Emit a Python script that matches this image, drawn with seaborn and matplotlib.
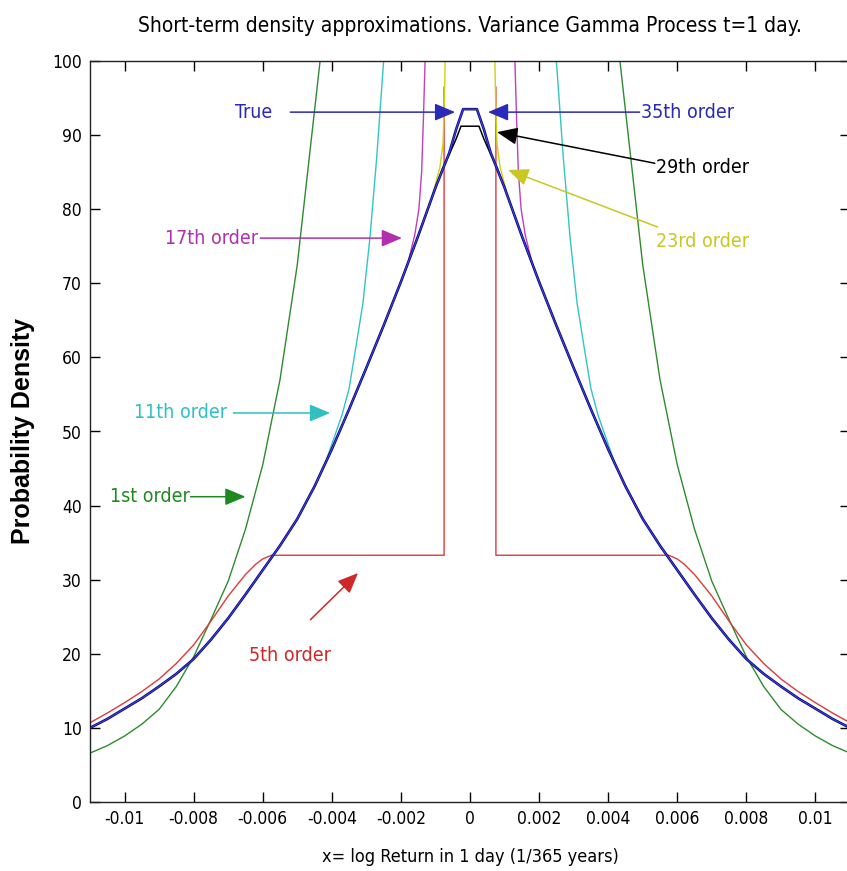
import numpy as np
import pandas as pd
import matplotlib
matplotlib.use('Agg')
import matplotlib.pyplot as plt
from matplotlib import font_manager
import seaborn as sns

# values, left half only (x <= 0); the curves are symmetric about 0
true_x = [-0.011, -0.0105, -0.010, -0.0095, -0.009, -0.0085, -0.008, -0.0075, -0.007,
          -0.0065, -0.006, -0.0055, -0.005, -0.0045, -0.004, -0.0035, -0.003, -0.0025,
          -0.002, -0.0015, -0.001, -0.0006, -0.0004, -0.0002, 0.0]
true_y = [10.0, 11.2, 12.6, 14.0, 15.6, 17.3, 19.3, 21.9, 24.8,
          28.0, 31.3, 34.6, 38.2, 42.6, 47.6, 53.0, 58.6, 64.3,
          70.2, 76.4, 82.9, 87.6, 90.8, 93.5, 93.5]

o1_x = [-0.011, -0.0105, -0.010, -0.0095, -0.009, -0.0085, -0.008, -0.0075, -0.007,
        -0.0065, -0.006, -0.0055, -0.005, -0.0047, -0.00434]
o1_y = [6.6, 7.6, 8.9, 10.5, 12.5, 15.6, 19.6, 24.6, 29.8,
        36.8, 45.5, 57.0, 72.5, 85.0, 100.0]

o5_x = [-0.011, -0.0105, -0.010, -0.0095, -0.009, -0.0085, -0.008, -0.0075, -0.007,
        -0.0065, -0.0062, -0.006, -0.0058, -0.00575, -0.00075, -0.00075]
o5_y = [10.7, 12.0, 13.4, 14.9, 16.6, 18.7, 21.2, 24.4, 27.8,
        30.7, 32.1, 32.8, 33.2, 33.3, 33.3, 96.5]

o11_x = [-0.0042, -0.0037, -0.0035, -0.0033, -0.0031, -0.0029, -0.0027, -0.0025]
o11_y = [45.6, 52.3, 55.8, 61.5, 67.3, 76.0, 87.0, 100.0]

o17_x = [-0.0018, -0.0016, -0.00148, -0.0014, -0.00135, -0.0013]
o17_y = [72.7, 76.5, 80.0, 85.0, 92.0, 100.0]

o23_x = [-0.0011, -0.00087, -0.00078, -0.00074, -0.00072]
o23_y = [81.6, 85.7, 88.9, 95.0, 100.0]

o29_x = [-0.0008, -0.0006, -0.0004, -0.00026, 0.0]
o29_y = [85.4, 87.4, 89.5, 91.2, 91.2]

xticks = [-0.01, -0.008, -0.006, -0.004, -0.002, 0, 0.002, 0.004, 0.006, 0.008, 0.01]
xtick_labels = ['-0.01', '-0.008', '-0.006', '-0.004', '-0.002', '0',
                '0.002', '0.004', '0.006', '0.008', '0.01']
yticks = [0, 10, 20, 30, 40, 50, 60, 70, 80, 90, 100]

# label, colour, text pos, arrow tail, arrow tip (data coords)
notes = [
    ('True', '#2a2ab8', (-0.00627, 93.1), (-0.0052, 93.1), (-0.00043, 93.1)),
    ('35th order', '#2a2ab8', (0.0063, 93.0), (0.00491, 93.1), (0.00052, 93.1)),
    ('29th order', 'black', (0.00673, 85.6), (0.00535, 86.2), (0.00078, 90.4)),
    ('23rd order', '#c8c820', (0.00673, 75.6), (0.00543, 77.6), (0.0011, 85.3)),
    ('17th order', '#b030b0', (-0.00748, 76.1), (-0.00607, 76.1), (-0.00197, 76.1)),
    ('11th order', '#30c0c0', (-0.00838, 52.5), (-0.00685, 52.5), (-0.00405, 52.5)),
    ('1st order', '#208820', (-0.00928, 41.2), (-0.00809, 41.2), (-0.0065, 41.2)),
    ('5th order', '#d02828', (-0.0052, 19.8), (-0.00462, 24.6), (-0.00324, 30.9)),
]


def mirror(xs, ys):
    xs = np.asarray(xs)
    ys = np.asarray(ys)
    if xs[-1] == 0:
        return np.r_[xs, -xs[::-1][1:]], np.r_[ys, ys[::-1][1:]]
    return np.r_[xs, -xs[::-1]], np.r_[ys, ys[::-1]]


def tails(xs, ys, cut):
    # true curve outside |x| > cut
    xs = np.asarray(xs)
    ys = np.asarray(ys)
    keep = xs < cut
    return list(xs[keep]), list(ys[keep])


sns.set_theme(style='ticks')
plt.rcParams['font.family'] = ['DejaVu Sans']
plt.rcParams['text.color'] = 'black'
plt.rcParams['axes.labelcolor'] = 'black'

# narrow face if the condensed DejaVu file is around
cond = font_manager.FontProperties(family='DejaVu Sans', stretch='condensed')
have_cond = 'Condensed' in font_manager.findfont(cond)
stretch = 'condensed' if have_cond else 'normal'
k = 1.0 if have_cond else 0.9

fig = plt.figure(figsize=(8.47, 8.71), dpi=100)
ax = fig.add_axes([90 / 847, 69 / 871, 760 / 847, 741 / 871])


def line(xs, ys, color, lw):
    sns.lineplot(x=xs, y=ys, ax=ax, color=color, lw=lw, sort=False, estimator=None)


# one-sided curves that leave the frame get drawn per side
for sgn in (1, -1):
    line(sgn * np.asarray(o1_x), o1_y, '#2e8b2e', 1.0)
    line(sgn * np.asarray(o5_x), o5_y, '#dd3a3a', 1.0)
    line(sgn * np.asarray(o11_x), o11_y, '#33c4c4', 1.0)
    line(sgn * np.asarray(o17_x), o17_y, '#c040c0', 1.0)
    line(sgn * np.asarray(o23_x), o23_y, '#d0d010', 1.0)

tx, ty = tails(true_x, true_y, -0.0008)
x29, y29 = mirror(tx + o29_x, ty + o29_y)
line(x29, y29, 'black', 1.1)
xt, yt = mirror(true_x, true_y)
line(xt, yt, '#10107a', 1.9)
line(xt, yt, '#4848ff', 0.6)

for text, col, tpos, tail, tip in notes:
    ax.annotate('', xy=tip, xytext=tail,
                arrowprops=dict(arrowstyle='-|>,head_length=0.9,head_width=0.38',
                                color=col, lw=1.1, mutation_scale=14, shrinkA=0, shrinkB=0))
    ax.text(tpos[0], tpos[1], text, color=col, fontsize=14 * k, ha='center', va='center',
            fontstretch=stretch)

ax.set_xlim(-0.011, 0.011)
ax.set_ylim(0, 100)
ax.set_xticks(xticks)
ax.set_xticklabels(xtick_labels, fontstretch=stretch)
ax.set_yticks(yticks)
ax.set_yticklabels([str(v) for v in yticks], fontstretch=stretch)
ax.tick_params(direction='in', length=7, width=1, top=True, right=True,
               labelsize=12.5 * k, colors='black', pad=6)
for sp in ax.spines.values():
    sp.set_visible(True)
    sp.set_color('#222222')
    sp.set_linewidth(1)

ax.set_xlabel('x= log Return in 1 day (1/365 years)', fontsize=13 * k, labelpad=14,
              fontstretch=stretch)
ax.set_ylabel('Probability Density', fontsize=18, fontweight='bold',
              family=['Liberation Sans', 'DejaVu Sans'], labelpad=12)
ax.set_title('Short-term density approximations. Variance Gamma Process t=1 day.',
             fontsize=15 * k, pad=21, color='black', fontstretch=stretch)

fig.savefig('out.png', dpi=100)
